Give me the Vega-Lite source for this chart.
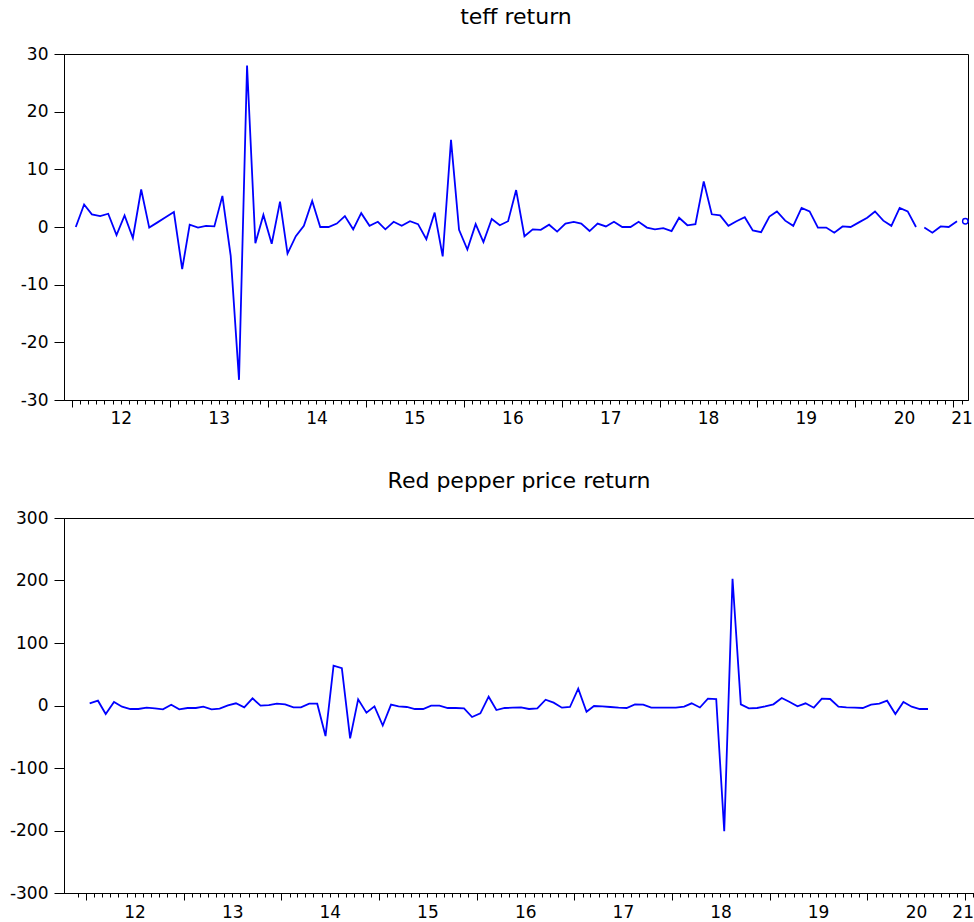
{
  "$schema": "https://vega.github.io/schema/vega-lite/v6.json",
  "background": "white",
  "padding": {"left": 5, "top": 5, "right": 0, "bottom": 0},
  "config": {
    "font": "DejaVu Sans",
    "view": {"stroke": "black", "strokeWidth": 1},
    "axis": {"labelFont": "DejaVu Sans", "labelFontSize": 17, "labelColor": "black", "domainColor": "black", "tickColor": "black", "grid": false, "title": null},
    "title": {"font": "DejaVu Sans", "fontSize": 22, "fontWeight": "normal", "color": "black", "anchor": "middle", "frame": "group", "offset": 16}
  },
  "datasets": {
    "teff": [
      {"date": "2012-01-15", "value": 0.0}, {"date": "2012-02-15", "value": 3.9}, {"date": "2012-03-15", "value": 2.2}, {"date": "2012-04-15", "value": 1.9}, {"date": "2012-05-15", "value": 2.3}, {"date": "2012-06-15", "value": -1.4}, {"date": "2012-07-15", "value": 2.0}, {"date": "2012-08-15", "value": -1.9}, {"date": "2012-09-15", "value": 6.5}, {"date": "2012-10-15", "value": -0.1}, {"date": "2012-11-15", "value": 0.8}, {"date": "2012-12-15", "value": 1.7},
      {"date": "2013-01-15", "value": 2.6}, {"date": "2013-02-15", "value": -7.3}, {"date": "2013-03-15", "value": 0.4}, {"date": "2013-04-15", "value": -0.1}, {"date": "2013-05-15", "value": 0.2}, {"date": "2013-06-15", "value": 0.1}, {"date": "2013-07-15", "value": 5.4}, {"date": "2013-08-15", "value": -5.0}, {"date": "2013-09-15", "value": -26.5}, {"date": "2013-10-15", "value": 28.0}, {"date": "2013-11-15", "value": -2.8}, {"date": "2013-12-15", "value": 2.1},
      {"date": "2014-01-15", "value": -2.9}, {"date": "2014-02-15", "value": 4.4}, {"date": "2014-03-15", "value": -4.6}, {"date": "2014-04-15", "value": -1.6}, {"date": "2014-05-15", "value": 0.2}, {"date": "2014-06-15", "value": 4.5}, {"date": "2014-07-15", "value": 0.0}, {"date": "2014-08-15", "value": 0.0}, {"date": "2014-09-15", "value": 0.6}, {"date": "2014-10-15", "value": 1.9}, {"date": "2014-11-15", "value": -0.4}, {"date": "2014-12-15", "value": 2.4},
      {"date": "2015-01-15", "value": 0.2}, {"date": "2015-02-15", "value": 0.9}, {"date": "2015-03-15", "value": -0.4}, {"date": "2015-04-15", "value": 0.9}, {"date": "2015-05-15", "value": 0.2}, {"date": "2015-06-15", "value": 1.0}, {"date": "2015-07-15", "value": 0.5}, {"date": "2015-08-15", "value": -2.1}, {"date": "2015-09-15", "value": 2.5}, {"date": "2015-10-15", "value": -5.1}, {"date": "2015-11-15", "value": 15.1}, {"date": "2015-12-15", "value": -0.5},
      {"date": "2016-01-15", "value": -3.9}, {"date": "2016-02-15", "value": 0.5}, {"date": "2016-03-15", "value": -2.6}, {"date": "2016-04-15", "value": 1.4}, {"date": "2016-05-15", "value": 0.3}, {"date": "2016-06-15", "value": 1.0}, {"date": "2016-07-15", "value": 6.4}, {"date": "2016-08-15", "value": -1.6}, {"date": "2016-09-15", "value": -0.4}, {"date": "2016-10-15", "value": -0.5}, {"date": "2016-11-15", "value": 0.4}, {"date": "2016-12-15", "value": -0.8},
      {"date": "2017-01-15", "value": 0.6}, {"date": "2017-02-15", "value": 0.9}, {"date": "2017-03-15", "value": 0.6}, {"date": "2017-04-15", "value": -0.7}, {"date": "2017-05-15", "value": 0.6}, {"date": "2017-06-15", "value": 0.1}, {"date": "2017-07-15", "value": 0.9}, {"date": "2017-08-15", "value": 0.0}, {"date": "2017-09-15", "value": 0.0}, {"date": "2017-10-15", "value": 0.9}, {"date": "2017-11-15", "value": -0.1}, {"date": "2017-12-15", "value": -0.4},
      {"date": "2018-01-15", "value": -0.2}, {"date": "2018-02-15", "value": -0.7}, {"date": "2018-03-15", "value": 1.6}, {"date": "2018-04-15", "value": 0.3}, {"date": "2018-05-15", "value": 0.5}, {"date": "2018-06-15", "value": 7.9}, {"date": "2018-07-15", "value": 2.2}, {"date": "2018-08-15", "value": 2.0}, {"date": "2018-09-15", "value": 0.2}, {"date": "2018-10-15", "value": 1.0}, {"date": "2018-11-15", "value": 1.7}, {"date": "2018-12-15", "value": -0.6},
      {"date": "2019-01-15", "value": -0.9}, {"date": "2019-02-15", "value": 1.8}, {"date": "2019-03-15", "value": 2.7}, {"date": "2019-04-15", "value": 1.1}, {"date": "2019-05-15", "value": 0.2}, {"date": "2019-06-15", "value": 3.3}, {"date": "2019-07-15", "value": 2.7}, {"date": "2019-08-15", "value": -0.1}, {"date": "2019-09-15", "value": -0.1}, {"date": "2019-10-15", "value": -1.0}, {"date": "2019-11-15", "value": 0.1}, {"date": "2019-12-15", "value": 0.0},
      {"date": "2020-01-15", "value": 0.8}, {"date": "2020-02-15", "value": 1.6}, {"date": "2020-03-15", "value": 2.7}, {"date": "2020-04-15", "value": 1.1}, {"date": "2020-05-15", "value": 0.2}, {"date": "2020-06-15", "value": 3.3}, {"date": "2020-07-15", "value": 2.7}, {"date": "2020-08-15", "value": 0.0},
      {"date": "2020-09-15", "value": -0.1}, {"date": "2020-10-15", "value": -1.0}, {"date": "2020-11-15", "value": 0.1}, {"date": "2020-12-15", "value": 0.0}, {"date": "2021-01-15", "value": 1.0},
      {"date": "2021-02-15", "value": 1.0}
    ],
    "pepper": [
      {"date": "2012-01-15", "value": 3.5}, {"date": "2012-02-15", "value": 7.7}, {"date": "2012-03-15", "value": -13.6}, {"date": "2012-04-15", "value": 5.6}, {"date": "2012-05-15", "value": -1.9}, {"date": "2012-06-15", "value": -5.6}, {"date": "2012-07-15", "value": -5.6}, {"date": "2012-08-15", "value": -3.5}, {"date": "2012-09-15", "value": -4.5}, {"date": "2012-10-15", "value": -6.1}, {"date": "2012-11-15", "value": 1.3}, {"date": "2012-12-15", "value": -6.1},
      {"date": "2013-01-15", "value": -4.0}, {"date": "2013-02-15", "value": -4.0}, {"date": "2013-03-15", "value": -1.9}, {"date": "2013-04-15", "value": -6.1}, {"date": "2013-05-15", "value": -5.0}, {"date": "2013-06-15", "value": 0.3}, {"date": "2013-07-15", "value": 3.5}, {"date": "2013-08-15", "value": -2.9}, {"date": "2013-09-15", "value": 11.5}, {"date": "2013-10-15", "value": -0.3}, {"date": "2013-11-15", "value": 0.5}, {"date": "2013-12-15", "value": 2.9},
      {"date": "2014-01-15", "value": 1.9}, {"date": "2014-02-15", "value": -2.9}, {"date": "2014-03-15", "value": -2.9}, {"date": "2014-04-15", "value": 2.9}, {"date": "2014-05-15", "value": 2.9}, {"date": "2014-06-15", "value": -48.9}, {"date": "2014-07-15", "value": 63.8}, {"date": "2014-08-15", "value": 59.6}, {"date": "2014-09-15", "value": -52.6}, {"date": "2014-10-15", "value": 9.9}, {"date": "2014-11-15", "value": -11.5}, {"date": "2014-12-15", "value": -1.3},
      {"date": "2015-01-15", "value": -32.0}, {"date": "2015-02-15", "value": 1.5}, {"date": "2015-03-15", "value": -1.3}, {"date": "2015-04-15", "value": -2.4}, {"date": "2015-05-15", "value": -5.6}, {"date": "2015-06-15", "value": -5.6}, {"date": "2015-07-15", "value": -0.3}, {"date": "2015-08-15", "value": -0.3}, {"date": "2015-09-15", "value": -4.0}, {"date": "2015-10-15", "value": -4.0}, {"date": "2015-11-15", "value": -4.5}, {"date": "2015-12-15", "value": -18.4},
      {"date": "2016-01-15", "value": -12.6}, {"date": "2016-02-15", "value": 14.1}, {"date": "2016-03-15", "value": -7.2}, {"date": "2016-04-15", "value": -4.0}, {"date": "2016-05-15", "value": -3.5}, {"date": "2016-06-15", "value": -2.9}, {"date": "2016-07-15", "value": -5.6}, {"date": "2016-08-15", "value": -4.5}, {"date": "2016-09-15", "value": 9.3}, {"date": "2016-10-15", "value": 4.5}, {"date": "2016-11-15", "value": -3.5}, {"date": "2016-12-15", "value": -2.4},
      {"date": "2017-01-15", "value": 27.0}, {"date": "2017-02-15", "value": -9.9}, {"date": "2017-03-15", "value": -0.8}, {"date": "2017-04-15", "value": -1.3}, {"date": "2017-05-15", "value": -2.4}, {"date": "2017-06-15", "value": -3.5}, {"date": "2017-07-15", "value": -4.0}, {"date": "2017-08-15", "value": 1.9}, {"date": "2017-09-15", "value": 1.3}, {"date": "2017-10-15", "value": -3.5}, {"date": "2017-11-15", "value": -3.5}, {"date": "2017-12-15", "value": -3.5},
      {"date": "2018-01-15", "value": -3.5}, {"date": "2018-02-15", "value": -1.9}, {"date": "2018-03-15", "value": 3.5}, {"date": "2018-04-15", "value": -3.2}, {"date": "2018-05-15", "value": 10.9}, {"date": "2018-06-15", "value": 10.4}, {"date": "2018-07-15", "value": -201.1}, {"date": "2018-08-15", "value": 202.7}, {"date": "2018-09-15", "value": 1.9}, {"date": "2018-10-15", "value": -4.5}, {"date": "2018-11-15", "value": -4.0}, {"date": "2018-12-15", "value": -1.3},
      {"date": "2019-01-15", "value": 1.9}, {"date": "2019-02-15", "value": 12.0}, {"date": "2019-03-15", "value": 6.1}, {"date": "2019-04-15", "value": -1.3}, {"date": "2019-05-15", "value": 3.5}, {"date": "2019-06-15", "value": -3.5}, {"date": "2019-07-15", "value": 10.9}, {"date": "2019-08-15", "value": 10.4}, {"date": "2019-09-15", "value": -1.9}, {"date": "2019-10-15", "value": -2.9}, {"date": "2019-11-15", "value": -3.5}, {"date": "2019-12-15", "value": -4.0},
      {"date": "2020-01-15", "value": 1.3}, {"date": "2020-02-15", "value": 2.9}, {"date": "2020-03-15", "value": 7.7}, {"date": "2020-04-15", "value": -13.6}, {"date": "2020-05-15", "value": 5.6}, {"date": "2020-06-15", "value": -1.9}, {"date": "2020-07-15", "value": -5.6}, {"date": "2020-08-15", "value": -5.6}
    ]
  },
  "spacing": 39,
  "vconcat": [
    {
      "title": "teff return",
      "width": 904,
      "height": 346,
      "data": {"name": "teff"},
      "layer": [
        {
          "transform": [{"filter": "time(datum.date) < utc(2020, 8, 1)"}],
          "mark": {"type": "line", "color": "#0000FF", "strokeWidth": 1.8},
          "encoding": {
            "x": {"field": "date", "type": "temporal",
              "scale": {"type": "utc", "nice": false, "domain": [{"year": 2011, "month": 12, "date": 2, "utc": true}, {"year": 2021, "month": 2, "date": 25, "utc": true}]},
              "axis": {"labelOverlap": false, "labelPadding": 6, "labelFlush": 5,
                "tickSize": {"condition": {"test": "utcmonth(datum.value) == 0", "value": 7}, "value": 4},
                "labelExpr": "(utcmonth(datum.value) == 6 || (utcyear(datum.value) == 2021 && utcmonth(datum.value) == 1)) ? utcFormat(datum.value, '%y') : ''",
                "values": [
                  {"year": 2012, "month": 1, "utc": true}, {"year": 2012, "month": 2, "utc": true}, {"year": 2012, "month": 3, "utc": true}, {"year": 2012, "month": 4, "utc": true}, {"year": 2012, "month": 5, "utc": true}, {"year": 2012, "month": 6, "utc": true}, {"year": 2012, "month": 7, "utc": true}, {"year": 2012, "month": 8, "utc": true}, {"year": 2012, "month": 9, "utc": true}, {"year": 2012, "month": 10, "utc": true}, {"year": 2012, "month": 11, "utc": true}, {"year": 2012, "month": 12, "utc": true},
                  {"year": 2013, "month": 1, "utc": true}, {"year": 2013, "month": 2, "utc": true}, {"year": 2013, "month": 3, "utc": true}, {"year": 2013, "month": 4, "utc": true}, {"year": 2013, "month": 5, "utc": true}, {"year": 2013, "month": 6, "utc": true}, {"year": 2013, "month": 7, "utc": true}, {"year": 2013, "month": 8, "utc": true}, {"year": 2013, "month": 9, "utc": true}, {"year": 2013, "month": 10, "utc": true}, {"year": 2013, "month": 11, "utc": true}, {"year": 2013, "month": 12, "utc": true},
                  {"year": 2014, "month": 1, "utc": true}, {"year": 2014, "month": 2, "utc": true}, {"year": 2014, "month": 3, "utc": true}, {"year": 2014, "month": 4, "utc": true}, {"year": 2014, "month": 5, "utc": true}, {"year": 2014, "month": 6, "utc": true}, {"year": 2014, "month": 7, "utc": true}, {"year": 2014, "month": 8, "utc": true}, {"year": 2014, "month": 9, "utc": true}, {"year": 2014, "month": 10, "utc": true}, {"year": 2014, "month": 11, "utc": true}, {"year": 2014, "month": 12, "utc": true},
                  {"year": 2015, "month": 1, "utc": true}, {"year": 2015, "month": 2, "utc": true}, {"year": 2015, "month": 3, "utc": true}, {"year": 2015, "month": 4, "utc": true}, {"year": 2015, "month": 5, "utc": true}, {"year": 2015, "month": 6, "utc": true}, {"year": 2015, "month": 7, "utc": true}, {"year": 2015, "month": 8, "utc": true}, {"year": 2015, "month": 9, "utc": true}, {"year": 2015, "month": 10, "utc": true}, {"year": 2015, "month": 11, "utc": true}, {"year": 2015, "month": 12, "utc": true},
                  {"year": 2016, "month": 1, "utc": true}, {"year": 2016, "month": 2, "utc": true}, {"year": 2016, "month": 3, "utc": true}, {"year": 2016, "month": 4, "utc": true}, {"year": 2016, "month": 5, "utc": true}, {"year": 2016, "month": 6, "utc": true}, {"year": 2016, "month": 7, "utc": true}, {"year": 2016, "month": 8, "utc": true}, {"year": 2016, "month": 9, "utc": true}, {"year": 2016, "month": 10, "utc": true}, {"year": 2016, "month": 11, "utc": true}, {"year": 2016, "month": 12, "utc": true},
                  {"year": 2017, "month": 1, "utc": true}, {"year": 2017, "month": 2, "utc": true}, {"year": 2017, "month": 3, "utc": true}, {"year": 2017, "month": 4, "utc": true}, {"year": 2017, "month": 5, "utc": true}, {"year": 2017, "month": 6, "utc": true}, {"year": 2017, "month": 7, "utc": true}, {"year": 2017, "month": 8, "utc": true}, {"year": 2017, "month": 9, "utc": true}, {"year": 2017, "month": 10, "utc": true}, {"year": 2017, "month": 11, "utc": true}, {"year": 2017, "month": 12, "utc": true},
                  {"year": 2018, "month": 1, "utc": true}, {"year": 2018, "month": 2, "utc": true}, {"year": 2018, "month": 3, "utc": true}, {"year": 2018, "month": 4, "utc": true}, {"year": 2018, "month": 5, "utc": true}, {"year": 2018, "month": 6, "utc": true}, {"year": 2018, "month": 7, "utc": true}, {"year": 2018, "month": 8, "utc": true}, {"year": 2018, "month": 9, "utc": true}, {"year": 2018, "month": 10, "utc": true}, {"year": 2018, "month": 11, "utc": true}, {"year": 2018, "month": 12, "utc": true},
                  {"year": 2019, "month": 1, "utc": true}, {"year": 2019, "month": 2, "utc": true}, {"year": 2019, "month": 3, "utc": true}, {"year": 2019, "month": 4, "utc": true}, {"year": 2019, "month": 5, "utc": true}, {"year": 2019, "month": 6, "utc": true}, {"year": 2019, "month": 7, "utc": true}, {"year": 2019, "month": 8, "utc": true}, {"year": 2019, "month": 9, "utc": true}, {"year": 2019, "month": 10, "utc": true}, {"year": 2019, "month": 11, "utc": true}, {"year": 2019, "month": 12, "utc": true},
                  {"year": 2020, "month": 1, "utc": true}, {"year": 2020, "month": 2, "utc": true}, {"year": 2020, "month": 3, "utc": true}, {"year": 2020, "month": 4, "utc": true}, {"year": 2020, "month": 5, "utc": true}, {"year": 2020, "month": 6, "utc": true}, {"year": 2020, "month": 7, "utc": true}, {"year": 2020, "month": 8, "utc": true}, {"year": 2020, "month": 9, "utc": true}, {"year": 2020, "month": 10, "utc": true}, {"year": 2020, "month": 11, "utc": true}, {"year": 2020, "month": 12, "utc": true},
                  {"year": 2021, "month": 1, "utc": true}, {"year": 2021, "month": 2, "utc": true}
                ]}},
            "y": {"field": "value", "type": "quantitative",
              "scale": {"domain": [-30, 30], "nice": false, "zero": false},
              "axis": {"values": [-30, -20, -10, 0, 10, 20, 30], "tickSize": 10, "labelPadding": 6, "minExtent": 58, "labelExpr": "'' + datum.value"}}
          }
        },
        {
          "transform": [{"filter": "time(datum.date) > utc(2020, 8, 1) && time(datum.date) < utc(2021, 1, 1)"}],
          "mark": {"type": "line", "color": "#0000FF", "strokeWidth": 1.8},
          "encoding": {
            "x": {"field": "date", "type": "temporal",
              "scale": {"type": "utc", "nice": false, "domain": [{"year": 2011, "month": 12, "date": 2, "utc": true}, {"year": 2021, "month": 2, "date": 25, "utc": true}]},
              "axis": {"labelOverlap": false, "labelPadding": 6, "labelFlush": 5,
                "tickSize": {"condition": {"test": "utcmonth(datum.value) == 0", "value": 7}, "value": 4},
                "labelExpr": "(utcmonth(datum.value) == 6 || (utcyear(datum.value) == 2021 && utcmonth(datum.value) == 1)) ? utcFormat(datum.value, '%y') : ''",
                "values": [
                  {"year": 2012, "month": 1, "utc": true}, {"year": 2012, "month": 2, "utc": true}, {"year": 2012, "month": 3, "utc": true}, {"year": 2012, "month": 4, "utc": true}, {"year": 2012, "month": 5, "utc": true}, {"year": 2012, "month": 6, "utc": true}, {"year": 2012, "month": 7, "utc": true}, {"year": 2012, "month": 8, "utc": true}, {"year": 2012, "month": 9, "utc": true}, {"year": 2012, "month": 10, "utc": true}, {"year": 2012, "month": 11, "utc": true}, {"year": 2012, "month": 12, "utc": true},
                  {"year": 2013, "month": 1, "utc": true}, {"year": 2013, "month": 2, "utc": true}, {"year": 2013, "month": 3, "utc": true}, {"year": 2013, "month": 4, "utc": true}, {"year": 2013, "month": 5, "utc": true}, {"year": 2013, "month": 6, "utc": true}, {"year": 2013, "month": 7, "utc": true}, {"year": 2013, "month": 8, "utc": true}, {"year": 2013, "month": 9, "utc": true}, {"year": 2013, "month": 10, "utc": true}, {"year": 2013, "month": 11, "utc": true}, {"year": 2013, "month": 12, "utc": true},
                  {"year": 2014, "month": 1, "utc": true}, {"year": 2014, "month": 2, "utc": true}, {"year": 2014, "month": 3, "utc": true}, {"year": 2014, "month": 4, "utc": true}, {"year": 2014, "month": 5, "utc": true}, {"year": 2014, "month": 6, "utc": true}, {"year": 2014, "month": 7, "utc": true}, {"year": 2014, "month": 8, "utc": true}, {"year": 2014, "month": 9, "utc": true}, {"year": 2014, "month": 10, "utc": true}, {"year": 2014, "month": 11, "utc": true}, {"year": 2014, "month": 12, "utc": true},
                  {"year": 2015, "month": 1, "utc": true}, {"year": 2015, "month": 2, "utc": true}, {"year": 2015, "month": 3, "utc": true}, {"year": 2015, "month": 4, "utc": true}, {"year": 2015, "month": 5, "utc": true}, {"year": 2015, "month": 6, "utc": true}, {"year": 2015, "month": 7, "utc": true}, {"year": 2015, "month": 8, "utc": true}, {"year": 2015, "month": 9, "utc": true}, {"year": 2015, "month": 10, "utc": true}, {"year": 2015, "month": 11, "utc": true}, {"year": 2015, "month": 12, "utc": true},
                  {"year": 2016, "month": 1, "utc": true}, {"year": 2016, "month": 2, "utc": true}, {"year": 2016, "month": 3, "utc": true}, {"year": 2016, "month": 4, "utc": true}, {"year": 2016, "month": 5, "utc": true}, {"year": 2016, "month": 6, "utc": true}, {"year": 2016, "month": 7, "utc": true}, {"year": 2016, "month": 8, "utc": true}, {"year": 2016, "month": 9, "utc": true}, {"year": 2016, "month": 10, "utc": true}, {"year": 2016, "month": 11, "utc": true}, {"year": 2016, "month": 12, "utc": true},
                  {"year": 2017, "month": 1, "utc": true}, {"year": 2017, "month": 2, "utc": true}, {"year": 2017, "month": 3, "utc": true}, {"year": 2017, "month": 4, "utc": true}, {"year": 2017, "month": 5, "utc": true}, {"year": 2017, "month": 6, "utc": true}, {"year": 2017, "month": 7, "utc": true}, {"year": 2017, "month": 8, "utc": true}, {"year": 2017, "month": 9, "utc": true}, {"year": 2017, "month": 10, "utc": true}, {"year": 2017, "month": 11, "utc": true}, {"year": 2017, "month": 12, "utc": true},
                  {"year": 2018, "month": 1, "utc": true}, {"year": 2018, "month": 2, "utc": true}, {"year": 2018, "month": 3, "utc": true}, {"year": 2018, "month": 4, "utc": true}, {"year": 2018, "month": 5, "utc": true}, {"year": 2018, "month": 6, "utc": true}, {"year": 2018, "month": 7, "utc": true}, {"year": 2018, "month": 8, "utc": true}, {"year": 2018, "month": 9, "utc": true}, {"year": 2018, "month": 10, "utc": true}, {"year": 2018, "month": 11, "utc": true}, {"year": 2018, "month": 12, "utc": true},
                  {"year": 2019, "month": 1, "utc": true}, {"year": 2019, "month": 2, "utc": true}, {"year": 2019, "month": 3, "utc": true}, {"year": 2019, "month": 4, "utc": true}, {"year": 2019, "month": 5, "utc": true}, {"year": 2019, "month": 6, "utc": true}, {"year": 2019, "month": 7, "utc": true}, {"year": 2019, "month": 8, "utc": true}, {"year": 2019, "month": 9, "utc": true}, {"year": 2019, "month": 10, "utc": true}, {"year": 2019, "month": 11, "utc": true}, {"year": 2019, "month": 12, "utc": true},
                  {"year": 2020, "month": 1, "utc": true}, {"year": 2020, "month": 2, "utc": true}, {"year": 2020, "month": 3, "utc": true}, {"year": 2020, "month": 4, "utc": true}, {"year": 2020, "month": 5, "utc": true}, {"year": 2020, "month": 6, "utc": true}, {"year": 2020, "month": 7, "utc": true}, {"year": 2020, "month": 8, "utc": true}, {"year": 2020, "month": 9, "utc": true}, {"year": 2020, "month": 10, "utc": true}, {"year": 2020, "month": 11, "utc": true}, {"year": 2020, "month": 12, "utc": true},
                  {"year": 2021, "month": 1, "utc": true}, {"year": 2021, "month": 2, "utc": true}
                ]}},
            "y": {"field": "value", "type": "quantitative",
              "scale": {"domain": [-30, 30], "nice": false, "zero": false},
              "axis": {"values": [-30, -20, -10, 0, 10, 20, 30], "tickSize": 10, "labelPadding": 6, "minExtent": 58, "labelExpr": "'' + datum.value"}}
          }
        },
        {
          "transform": [{"filter": "time(datum.date) > utc(2021, 1, 1)"}],
          "mark": {"type": "point", "shape": "circle", "filled": false, "color": "#0000FF", "size": 30, "strokeWidth": 1.4, "opacity": 1},
          "encoding": {
            "x": {"field": "date", "type": "temporal",
              "scale": {"type": "utc", "nice": false, "domain": [{"year": 2011, "month": 12, "date": 2, "utc": true}, {"year": 2021, "month": 2, "date": 25, "utc": true}]},
              "axis": {"labelOverlap": false, "labelPadding": 6, "labelFlush": 5,
                "tickSize": {"condition": {"test": "utcmonth(datum.value) == 0", "value": 7}, "value": 4},
                "labelExpr": "(utcmonth(datum.value) == 6 || (utcyear(datum.value) == 2021 && utcmonth(datum.value) == 1)) ? utcFormat(datum.value, '%y') : ''",
                "values": [
                  {"year": 2012, "month": 1, "utc": true}, {"year": 2012, "month": 2, "utc": true}, {"year": 2012, "month": 3, "utc": true}, {"year": 2012, "month": 4, "utc": true}, {"year": 2012, "month": 5, "utc": true}, {"year": 2012, "month": 6, "utc": true}, {"year": 2012, "month": 7, "utc": true}, {"year": 2012, "month": 8, "utc": true}, {"year": 2012, "month": 9, "utc": true}, {"year": 2012, "month": 10, "utc": true}, {"year": 2012, "month": 11, "utc": true}, {"year": 2012, "month": 12, "utc": true},
                  {"year": 2013, "month": 1, "utc": true}, {"year": 2013, "month": 2, "utc": true}, {"year": 2013, "month": 3, "utc": true}, {"year": 2013, "month": 4, "utc": true}, {"year": 2013, "month": 5, "utc": true}, {"year": 2013, "month": 6, "utc": true}, {"year": 2013, "month": 7, "utc": true}, {"year": 2013, "month": 8, "utc": true}, {"year": 2013, "month": 9, "utc": true}, {"year": 2013, "month": 10, "utc": true}, {"year": 2013, "month": 11, "utc": true}, {"year": 2013, "month": 12, "utc": true},
                  {"year": 2014, "month": 1, "utc": true}, {"year": 2014, "month": 2, "utc": true}, {"year": 2014, "month": 3, "utc": true}, {"year": 2014, "month": 4, "utc": true}, {"year": 2014, "month": 5, "utc": true}, {"year": 2014, "month": 6, "utc": true}, {"year": 2014, "month": 7, "utc": true}, {"year": 2014, "month": 8, "utc": true}, {"year": 2014, "month": 9, "utc": true}, {"year": 2014, "month": 10, "utc": true}, {"year": 2014, "month": 11, "utc": true}, {"year": 2014, "month": 12, "utc": true},
                  {"year": 2015, "month": 1, "utc": true}, {"year": 2015, "month": 2, "utc": true}, {"year": 2015, "month": 3, "utc": true}, {"year": 2015, "month": 4, "utc": true}, {"year": 2015, "month": 5, "utc": true}, {"year": 2015, "month": 6, "utc": true}, {"year": 2015, "month": 7, "utc": true}, {"year": 2015, "month": 8, "utc": true}, {"year": 2015, "month": 9, "utc": true}, {"year": 2015, "month": 10, "utc": true}, {"year": 2015, "month": 11, "utc": true}, {"year": 2015, "month": 12, "utc": true},
                  {"year": 2016, "month": 1, "utc": true}, {"year": 2016, "month": 2, "utc": true}, {"year": 2016, "month": 3, "utc": true}, {"year": 2016, "month": 4, "utc": true}, {"year": 2016, "month": 5, "utc": true}, {"year": 2016, "month": 6, "utc": true}, {"year": 2016, "month": 7, "utc": true}, {"year": 2016, "month": 8, "utc": true}, {"year": 2016, "month": 9, "utc": true}, {"year": 2016, "month": 10, "utc": true}, {"year": 2016, "month": 11, "utc": true}, {"year": 2016, "month": 12, "utc": true},
                  {"year": 2017, "month": 1, "utc": true}, {"year": 2017, "month": 2, "utc": true}, {"year": 2017, "month": 3, "utc": true}, {"year": 2017, "month": 4, "utc": true}, {"year": 2017, "month": 5, "utc": true}, {"year": 2017, "month": 6, "utc": true}, {"year": 2017, "month": 7, "utc": true}, {"year": 2017, "month": 8, "utc": true}, {"year": 2017, "month": 9, "utc": true}, {"year": 2017, "month": 10, "utc": true}, {"year": 2017, "month": 11, "utc": true}, {"year": 2017, "month": 12, "utc": true},
                  {"year": 2018, "month": 1, "utc": true}, {"year": 2018, "month": 2, "utc": true}, {"year": 2018, "month": 3, "utc": true}, {"year": 2018, "month": 4, "utc": true}, {"year": 2018, "month": 5, "utc": true}, {"year": 2018, "month": 6, "utc": true}, {"year": 2018, "month": 7, "utc": true}, {"year": 2018, "month": 8, "utc": true}, {"year": 2018, "month": 9, "utc": true}, {"year": 2018, "month": 10, "utc": true}, {"year": 2018, "month": 11, "utc": true}, {"year": 2018, "month": 12, "utc": true},
                  {"year": 2019, "month": 1, "utc": true}, {"year": 2019, "month": 2, "utc": true}, {"year": 2019, "month": 3, "utc": true}, {"year": 2019, "month": 4, "utc": true}, {"year": 2019, "month": 5, "utc": true}, {"year": 2019, "month": 6, "utc": true}, {"year": 2019, "month": 7, "utc": true}, {"year": 2019, "month": 8, "utc": true}, {"year": 2019, "month": 9, "utc": true}, {"year": 2019, "month": 10, "utc": true}, {"year": 2019, "month": 11, "utc": true}, {"year": 2019, "month": 12, "utc": true},
                  {"year": 2020, "month": 1, "utc": true}, {"year": 2020, "month": 2, "utc": true}, {"year": 2020, "month": 3, "utc": true}, {"year": 2020, "month": 4, "utc": true}, {"year": 2020, "month": 5, "utc": true}, {"year": 2020, "month": 6, "utc": true}, {"year": 2020, "month": 7, "utc": true}, {"year": 2020, "month": 8, "utc": true}, {"year": 2020, "month": 9, "utc": true}, {"year": 2020, "month": 10, "utc": true}, {"year": 2020, "month": 11, "utc": true}, {"year": 2020, "month": 12, "utc": true},
                  {"year": 2021, "month": 1, "utc": true}, {"year": 2021, "month": 2, "utc": true}
                ]}},
            "y": {"field": "value", "type": "quantitative",
              "scale": {"domain": [-30, 30], "nice": false, "zero": false},
              "axis": {"values": [-30, -20, -10, 0, 10, 20, 30], "tickSize": 10, "labelPadding": 6, "minExtent": 58, "labelExpr": "'' + datum.value"}}
          }
        }
      ]
    },
    {
      "title": "Red pepper price return",
      "width": 910,
      "height": 375,
      "data": {"name": "pepper"},
      "mark": {"type": "line", "color": "#0000FF", "strokeWidth": 1.8},
      "encoding": {
        "x": {"field": "date", "type": "temporal",
          "scale": {"type": "utc", "nice": false, "domain": [{"year": 2011, "month": 10, "date": 11, "utc": true}, {"year": 2021, "month": 2, "date": 3, "utc": true}]},
          "axis": {"labelOverlap": false, "labelPadding": 7, "labelFlush": 5,
            "tickSize": {"condition": {"test": "utcmonth(datum.value) == 0", "value": 7}, "value": 4},
            "labelExpr": "(utcmonth(datum.value) == 6 || (utcyear(datum.value) == 2021 && utcmonth(datum.value) == 1)) ? utcFormat(datum.value, '%y') : ''",
            "values": [
              {"year": 2011, "month": 12, "utc": true},
              {"year": 2012, "month": 1, "utc": true}, {"year": 2012, "month": 2, "utc": true}, {"year": 2012, "month": 3, "utc": true}, {"year": 2012, "month": 4, "utc": true}, {"year": 2012, "month": 5, "utc": true}, {"year": 2012, "month": 6, "utc": true}, {"year": 2012, "month": 7, "utc": true}, {"year": 2012, "month": 8, "utc": true}, {"year": 2012, "month": 9, "utc": true}, {"year": 2012, "month": 10, "utc": true}, {"year": 2012, "month": 11, "utc": true}, {"year": 2012, "month": 12, "utc": true},
              {"year": 2013, "month": 1, "utc": true}, {"year": 2013, "month": 2, "utc": true}, {"year": 2013, "month": 3, "utc": true}, {"year": 2013, "month": 4, "utc": true}, {"year": 2013, "month": 5, "utc": true}, {"year": 2013, "month": 6, "utc": true}, {"year": 2013, "month": 7, "utc": true}, {"year": 2013, "month": 8, "utc": true}, {"year": 2013, "month": 9, "utc": true}, {"year": 2013, "month": 10, "utc": true}, {"year": 2013, "month": 11, "utc": true}, {"year": 2013, "month": 12, "utc": true},
              {"year": 2014, "month": 1, "utc": true}, {"year": 2014, "month": 2, "utc": true}, {"year": 2014, "month": 3, "utc": true}, {"year": 2014, "month": 4, "utc": true}, {"year": 2014, "month": 5, "utc": true}, {"year": 2014, "month": 6, "utc": true}, {"year": 2014, "month": 7, "utc": true}, {"year": 2014, "month": 8, "utc": true}, {"year": 2014, "month": 9, "utc": true}, {"year": 2014, "month": 10, "utc": true}, {"year": 2014, "month": 11, "utc": true}, {"year": 2014, "month": 12, "utc": true},
              {"year": 2015, "month": 1, "utc": true}, {"year": 2015, "month": 2, "utc": true}, {"year": 2015, "month": 3, "utc": true}, {"year": 2015, "month": 4, "utc": true}, {"year": 2015, "month": 5, "utc": true}, {"year": 2015, "month": 6, "utc": true}, {"year": 2015, "month": 7, "utc": true}, {"year": 2015, "month": 8, "utc": true}, {"year": 2015, "month": 9, "utc": true}, {"year": 2015, "month": 10, "utc": true}, {"year": 2015, "month": 11, "utc": true}, {"year": 2015, "month": 12, "utc": true},
              {"year": 2016, "month": 1, "utc": true}, {"year": 2016, "month": 2, "utc": true}, {"year": 2016, "month": 3, "utc": true}, {"year": 2016, "month": 4, "utc": true}, {"year": 2016, "month": 5, "utc": true}, {"year": 2016, "month": 6, "utc": true}, {"year": 2016, "month": 7, "utc": true}, {"year": 2016, "month": 8, "utc": true}, {"year": 2016, "month": 9, "utc": true}, {"year": 2016, "month": 10, "utc": true}, {"year": 2016, "month": 11, "utc": true}, {"year": 2016, "month": 12, "utc": true},
              {"year": 2017, "month": 1, "utc": true}, {"year": 2017, "month": 2, "utc": true}, {"year": 2017, "month": 3, "utc": true}, {"year": 2017, "month": 4, "utc": true}, {"year": 2017, "month": 5, "utc": true}, {"year": 2017, "month": 6, "utc": true}, {"year": 2017, "month": 7, "utc": true}, {"year": 2017, "month": 8, "utc": true}, {"year": 2017, "month": 9, "utc": true}, {"year": 2017, "month": 10, "utc": true}, {"year": 2017, "month": 11, "utc": true}, {"year": 2017, "month": 12, "utc": true},
              {"year": 2018, "month": 1, "utc": true}, {"year": 2018, "month": 2, "utc": true}, {"year": 2018, "month": 3, "utc": true}, {"year": 2018, "month": 4, "utc": true}, {"year": 2018, "month": 5, "utc": true}, {"year": 2018, "month": 6, "utc": true}, {"year": 2018, "month": 7, "utc": true}, {"year": 2018, "month": 8, "utc": true}, {"year": 2018, "month": 9, "utc": true}, {"year": 2018, "month": 10, "utc": true}, {"year": 2018, "month": 11, "utc": true}, {"year": 2018, "month": 12, "utc": true},
              {"year": 2019, "month": 1, "utc": true}, {"year": 2019, "month": 2, "utc": true}, {"year": 2019, "month": 3, "utc": true}, {"year": 2019, "month": 4, "utc": true}, {"year": 2019, "month": 5, "utc": true}, {"year": 2019, "month": 6, "utc": true}, {"year": 2019, "month": 7, "utc": true}, {"year": 2019, "month": 8, "utc": true}, {"year": 2019, "month": 9, "utc": true}, {"year": 2019, "month": 10, "utc": true}, {"year": 2019, "month": 11, "utc": true}, {"year": 2019, "month": 12, "utc": true},
              {"year": 2020, "month": 1, "utc": true}, {"year": 2020, "month": 2, "utc": true}, {"year": 2020, "month": 3, "utc": true}, {"year": 2020, "month": 4, "utc": true}, {"year": 2020, "month": 5, "utc": true}, {"year": 2020, "month": 6, "utc": true}, {"year": 2020, "month": 7, "utc": true}, {"year": 2020, "month": 8, "utc": true}, {"year": 2020, "month": 9, "utc": true}, {"year": 2020, "month": 10, "utc": true}, {"year": 2020, "month": 11, "utc": true}, {"year": 2020, "month": 12, "utc": true},
              {"year": 2021, "month": 1, "utc": true}, {"year": 2021, "month": 2, "utc": true}
            ]}},
        "y": {"field": "value", "type": "quantitative",
          "scale": {"domain": [-300, 300], "nice": false, "zero": false},
          "axis": {"values": [-300, -200, -100, 0, 100, 200, 300], "tickSize": 10, "labelPadding": 6, "minExtent": 58, "labelExpr": "'' + datum.value"}}
      }
    }
  ]
}
